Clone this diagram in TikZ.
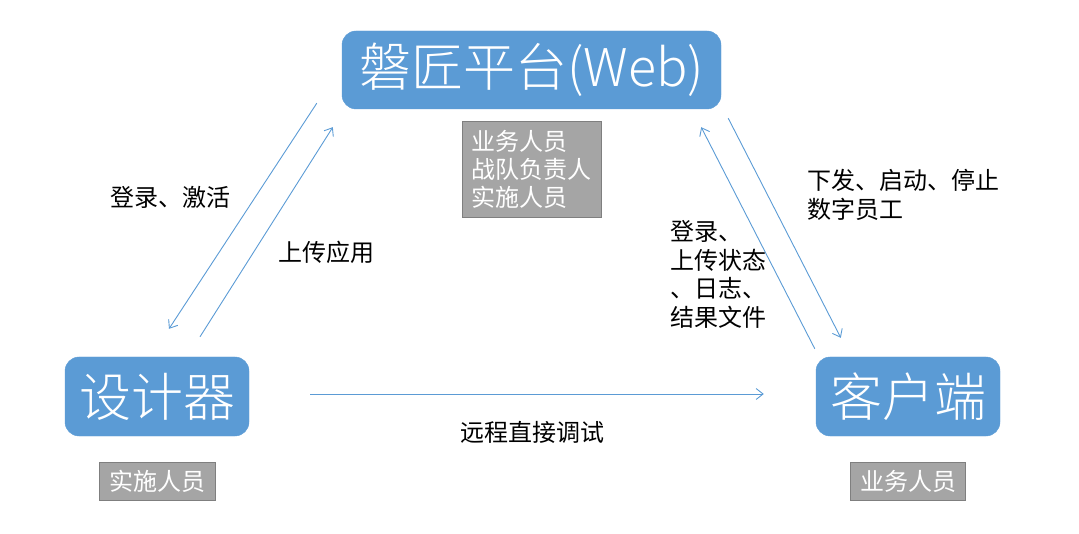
\documentclass[tikz,border=0pt]{standalone}
\usepackage{fontspec}
\setmainfont{Noto Sans CJK SC}
\newfontfamily\lightcjk{Noto Sans CJK SC Light}
\usetikzlibrary{arrows.meta}
\definecolor{boxblue}{HTML}{5B9BD5}
\definecolor{rolegray}{HTML}{A5A5A5}
\definecolor{rolerim}{HTML}{7F7F7F}

\begin{document}
\begin{tikzpicture}[x=1pt,y=-1pt,->,>={Straight Barb[length=7pt,width=11pt]},
                    node distance=84.5pt]
  \tikzstyle{sysbox}=[rectangle,rounded corners=14pt,fill=boxblue,draw=boxblue,text=white,
                      font=\lightcjk\fontsize{52}{60}\selectfont,minimum height=79pt]
  \tikzstyle{rolebox}=[rectangle,fill=rolegray,draw=rolerim,text=white,align=left,
                       font=\fontsize{24}{28}\selectfont,minimum height=38pt]
  \tikzstyle{note}=[align=left,inner sep=0pt,font=\fontsize{24}{28.5}\selectfont]
  \tikzstyle{link}=[draw=boxblue,line width=0.9pt]

  \useasboundingbox (0,0) rectangle (1079,534);

  \node[sysbox,minimum width=379pt,minimum height=78pt] (web) at (531.5,70) {磐匠平台(Web)};
  \node[sysbox,minimum width=184pt] (designer) at (157,396.5) {设计器};
  \node[sysbox,minimum width=184pt] (client)   at (908,396.5) {客户端};

  \node[rolebox,minimum width=139pt,minimum height=96pt] (webrole)
        [below of=web,node distance=99pt] {业务人员\\战队负责人\\实施人员};
  \node[rolebox,minimum width=116pt] (designerrole) [below of=designer] {实施人员};
  \node[rolebox,minimum width=115pt] (clientrole)   [below of=client]   {业务人员};

  % connector ends
  \coordinate (d1) at ([xshift=-25pt,yshift=6pt]web.south west);
  \coordinate (d2) at ([xshift=12pt,yshift=28pt]designer.north);
  \coordinate (u1) at ([xshift=43pt,yshift=20pt]designer.north);
  \coordinate (u2) at ([xshift=-9pt,yshift=-18pt]web.south west);
  \coordinate (s1) at ([xshift=-1pt,yshift=8pt]client.north west);
  \coordinate (s2) at ([xshift=-20pt,yshift=-18pt]web.south east);
  \coordinate (c1) at ([xshift=7pt,yshift=-9pt]web.south east);
  \coordinate (c2) at ([xshift=25pt,yshift=19pt]client.north west);
  \coordinate (r1) at ([xshift=61pt,yshift=2.5pt]designer.east);
  \coordinate (r2) at ([xshift=-52pt,yshift=2.5pt]client.west);

  \path (d1) edge[link] (d2)
        (u1) edge[link] (u2)
        (s1) edge[link] (s2)
        (c1) edge[link] (c2)
        (r1) edge[link] (r2);

  \node[note,anchor=west] (loginlbl)  at (110,197) {登录、激活};
  \node[note,anchor=west] (uploadlbl) at (278,252) {上传应用};
  \node[note] (debuglbl) at (532,432) {远程直接调试};
  \node[note,anchor=west] (dispatchlbl) at (807,195) {下发、启动、停止\\数字员工};
  \node[note,anchor=west] (statuslbl) at (670,274.5) {登录、\\上传状态\\、日志、\\结果文件};

\end{tikzpicture}
\end{document}
